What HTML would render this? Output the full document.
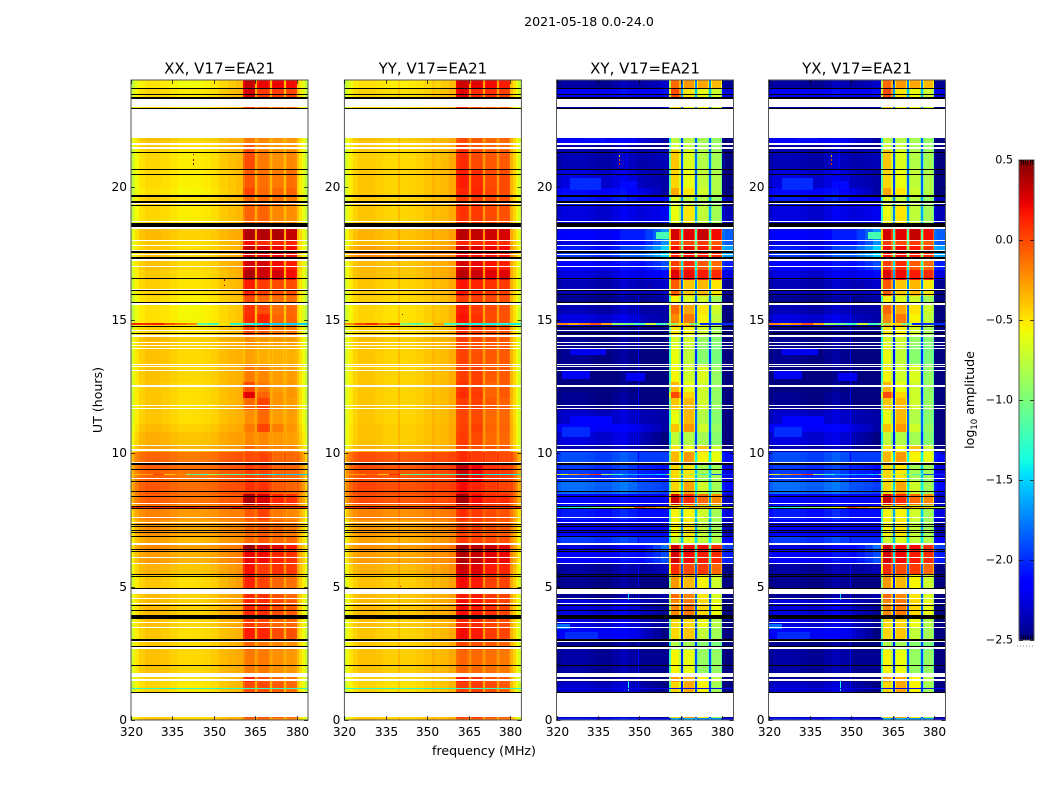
<!DOCTYPE html>
<html>
<head>
<meta charset="utf-8">
<title>2021-05-18 0.0-24.0</title>
<style>
html,body{margin:0;padding:0;background:#fff;}
svg{display:block;}
text{font-family:"DejaVu Sans","Liberation Sans",sans-serif;fill:#000;}
</style>
</head>
<body>
<svg id="chart" xmlns="http://www.w3.org/2000/svg" width="1050" height="800" viewBox="0 0 1050 800">
<text x="589" y="26" font-size="12.6" text-anchor="middle">2021-05-18 0.0-24.0</text>
<text x="484" y="755" font-size="12.6" text-anchor="middle">frequency (MHz)</text>
<text x="102" y="400" font-size="12.6" text-anchor="middle" transform="rotate(-90 102 400)">UT (hours)</text>
<text x="974" y="400" font-size="12.6" text-anchor="middle" transform="rotate(-90 974 400)">log<tspan font-size="8.5" dy="3">10</tspan><tspan dy="-3"> amplitude</tspan></text>
<g id="panels"></g>
<g id="colorbar"></g>
</svg>
<script>
const panelTitles = ["XX, V17=EA21", "YY, V17=EA21", "XY, V17=EA21", "YX, V17=EA21"];
const freqTicks = [320, 335, 350, 365, 380];
const hourTicks = [0, 5, 10, 15, 20];
const cbarTicks = [0.5, 0.0, -0.5, -1.0, -1.5, -2.0, -2.5];
const cbarMinorFractions = [0.1, 0.25, 0.4, 0.55, 0.7, 0.85];

const rowEdges = [24,23.7,23.36,22.88,21.83,21.6,21.38,20.63,19.95,19.65,19.31,18.6,18.0,17.78,17.55,17.33,16.88,16.5,15.9,15.6,15.23,14.74,14.44,14.06,13.35,12.68,12.3,12.08,11.63,11.1,10.8,10.28,10.05,9.68,8.96,8.48,8.06,7.5,6.9,6.64,6.38,5.89,5.44,4.88,4.5,3.86,3.45,3.0,2.63,1.76,1.43,1.01,0.08,0];
const zoneEdges = [320,320.7,321.5,323,325,328,331,334,337,339.4,340,343,346,349,351.7,352.3,355,358,360.6,361.4,364.5,365,365.8,366.2,369.8,370.2,371,371.4,374.9,375.3,376,376.4,379.6,380,381,382,383,384];
const zoneColumn = [0,0,0,0,0,0,0,0,0,0,0,0,0,0,1,1,1,1,2,2,2,1,3,3,3,1,4,4,4,1,5,5,5,1,1,1,1];
const zoneBlend = [0,0,0,0,0,0,0,0,0,0,0,.1,.2,.3,.4,.5,.7,1,0,0,0,1,0,0,0,1,0,0,0,1,0,0,0,1,1,1,1];

const xxProfile = [-.3,-.2,-.1,-.02,.02,.02,0,-.03,-.06,-.06,-.06,-.06,-.05,-.03,0,.02,.04,.05,-.1,0,-.05,.08,-.05,0,-.05,.06,-.05,0,-.05,.05,-.05,0,-.03,0,-.1,-.2,-.35];
const yyProfile = [-.35,-.2,-.1,-.02,.02,.02,0,-.02,-.03,.05,-.03,-.03,-.02,0,.05,0,0,.02,-.05,0,-.05,.1,-.05,0,-.05,.08,-.05,0,-.05,.08,-.05,0,-.05,0,-.12,-.22,-.35];
const xyProfile = [-.3,-.2,-.15,-.15,-.15,-.15,-.17,-.2,-.2,-.2,-.15,-.1,-.15,-.2,-.2,-.2,-.2,-.2,-.7,0,-.25,.25,-.25,0,-.25,.35,-.25,0,-.25,.35,-.25,0,-.25,-.3,-.35,-.35,-.35];
const yxProfile = [-.3,-.2,-.15,-.15,-.15,-.15,-.17,-.2,-.2,-.2,-.15,-.1,-.15,-.2,-.2,-.2,-.2,-.2,-.7,0,-.25,.25,-.25,0,-.25,.35,-.25,0,-.25,.35,-.25,0,-.25,-.3,-.35,-.35,-.35];

/* each row: low band, near band, four sub-band blocks (log10 amplitude) */
const xxRows = [
[-.52,-.42,.32,.22,.22,.2],[-.46,-.4,.28,.05,.05,.02],[-.45,-.4,.05,-.05,-.1,-.1],[-.45,-.4,.05,-.05,-.1,-.1],
[-.4,-.38,-.15,-.2,-.25,-.25],[-.42,-.38,-.05,-.2,-.25,-.25],[-.47,-.4,0,-.15,-.22,-.2],[-.48,-.42,-.05,-.12,-.15,-.12],
[-.5,-.42,.02,-.1,-.1,-.08],[-.45,-.4,-.1,-.1,-.12,-.15],[-.47,-.4,-.08,-.08,-.2,-.22],[-.38,-.36,.38,.37,.38,.32],
[-.42,-.38,.18,.1,.12,.12],[-.42,-.38,.32,.28,.22,.2],[-.4,-.35,.3,.25,.25,.2],[-.4,-.36,.28,.28,.2,.15],
[-.43,-.38,.38,.3,.28,.2],[-.44,-.4,.15,.05,0,0],[-.48,-.43,0,-.1,-.12,-.12],[-.5,-.45,.08,0,-.12,-.1],
[-.5,-.45,.1,.12,-.08,-.08],[-.44,-.4,0,-.05,-.15,-.15],[-.38,-.36,-.22,-.26,-.27,-.27],[-.4,-.38,-.28,-.32,-.33,-.33],
[-.4,-.38,-.16,-.2,-.27,-.27],[-.42,-.38,0,-.15,-.27,-.25],[-.42,-.38,.25,-.08,-.24,-.24],[-.42,-.38,-.1,.02,-.24,-.27],
[-.42,-.38,-.22,-.1,-.27,-.27],[-.38,-.35,-.15,.02,-.17,-.24],[-.34,-.32,-.2,-.2,-.25,-.27],[-.3,-.3,-.1,-.15,-.2,-.2],
[-.1,-.08,0,.02,-.1,-.1],[-.08,-.08,.05,.03,-.08,-.08],[-.06,-.06,.08,.08,-.05,-.08],[-.08,-.1,.38,.28,.12,.08],
[-.2,-.22,-.05,.03,-.15,-.2],[-.25,-.25,-.1,-.05,-.1,-.15],[-.3,-.28,-.1,-.05,-.1,-.1],[-.22,-.2,.42,.32,.25,.15],
[-.28,-.22,.22,.2,.12,.08],[-.35,-.28,.18,.05,.08,.05],[-.42,-.32,.12,.02,-.08,-.12],[-.38,-.33,.1,.08,-.02,-.1],
[-.38,-.34,.12,.1,0,-.05],[-.4,-.35,.05,.02,-.1,-.1],[-.42,-.38,.15,.12,0,-.02],[-.42,-.38,-.08,-.15,-.2,-.22],
[-.4,-.36,-.15,-.15,-.22,-.25],[-.44,-.38,.12,0,-.1,-.12],[-.46,-.4,0,0,-.05,-.1],[-.46,-.4,0,0,-.05,-.1],
[-.38,-.35,-.1,-.1,-.2,-.2]];
const yyRows = [
[-.5,-.38,.3,.25,.2,.15],[-.45,-.36,.25,.1,.08,.03],[-.45,-.36,.1,0,-.05,-.05],[-.45,-.36,.1,0,-.05,-.05],
[-.4,-.33,0,-.05,-.1,-.1],[-.42,-.34,.05,-.05,-.1,-.1],[-.44,-.33,.1,0,-.05,-.05],[-.42,-.33,.15,.1,0,0],
[-.42,-.33,.12,.12,.02,0],[-.42,-.33,.05,.05,0,-.02],[-.42,-.33,.08,.05,0,-.02],[-.36,-.3,.35,.33,.3,.28],
[-.38,-.3,.12,.1,.12,.1],[-.3,-.25,.3,.25,.22,.2],[-.2,-.2,.25,.2,.2,.18],[-.38,-.3,.28,.22,.18,.15],
[-.38,-.3,.35,.3,.25,.25],[-.42,-.33,.18,.12,.08,.05],[-.44,-.35,.05,.03,0,-.02],[-.46,-.36,.15,.05,0,-.02],
[-.46,-.36,.18,.08,0,-.02],[-.44,-.35,.1,.03,-.02,-.03],[-.4,-.33,.05,0,-.03,-.05],[-.42,-.34,.03,-.02,-.05,-.05],
[-.42,-.34,.05,.03,-.05,-.05],[-.42,-.34,.08,.03,-.08,-.05],[-.42,-.34,.1,.05,-.08,-.05],[-.42,-.34,.05,.03,-.05,-.08],
[-.42,-.34,.02,0,-.1,-.1],[-.4,-.33,.03,.03,-.08,-.08],[-.4,-.33,.05,0,-.1,-.1],[-.36,-.3,.05,-.02,-.05,-.05],
[-.03,0,.1,.05,.02,0],[-.02,.02,.32,.22,.08,.05],[0,.02,.2,.12,.05,.02],[-.02,0,.4,.2,.1,.1],
[-.2,-.15,.1,.05,0,-.02],[-.27,-.2,.02,.02,-.02,-.05],[-.3,-.22,.05,.02,0,-.02],[-.24,-.15,.42,.35,.32,.25],
[-.28,-.2,.38,.32,.25,.22],[-.34,-.24,.3,.25,.15,.12],[-.4,-.3,.2,.15,.03,.02],[-.38,-.3,.15,.15,.05,.02],
[-.38,-.3,.2,.15,.08,.02],[-.4,-.32,.12,.1,.02,0],[-.42,-.33,.2,.15,.05,.02],[-.42,-.34,.02,-.02,-.05,-.08],
[-.4,-.33,-.08,-.1,-.12,-.15],[-.44,-.35,.15,.08,-.02,-.05],[-.46,-.36,.05,.05,0,-.05],[-.46,-.36,.05,.05,0,-.05],
[-.38,-.33,-.05,-.05,-.12,-.15]];
const xyRows = [
[-2.25,-2.1,-.1,-.25,-.3,-.35],[-2.0,-1.9,0,-.5,-.6,-.7],[-2.2,-2.1,-.4,-.6,-.6,-.7],[-2.2,-2.1,-.4,-.6,-.6,-.7],
[-2.0,-2.2,-.75,-.8,-.85,-.9],[-2.25,-2.3,-.7,-.75,-.85,-.9],[-2.2,-2.15,-.4,-.65,-.8,-.85],[-2.1,-2.2,-.45,-.6,-.75,-.8],
[-1.95,-2.2,-.3,-.5,-.7,-.8],[-1.9,-2.0,-.65,-.75,-.8,-.9],[-2.1,-2.0,-.6,-.5,-.75,-.85],[-2.0,-1.5,.28,.25,.32,.2],
[-2.1,-1.5,.05,0,.05,-.05],[-1.9,-1.3,.2,.2,.15,.1],[-1.8,-1.3,.15,.2,.15,.1],[-2.0,-1.7,.05,.1,-.05,-.1],
[-2.1,-1.9,.25,.2,.15,.1],[-2.2,-2.1,-.05,-.4,-.35,-.5],[-2.3,-2.2,-.55,-.65,-.7,-.85],[-2.2,-2.2,-.1,-.3,-.5,-.7],
[-2.1,-2.2,-.2,-.15,-.55,-.75],[-2.35,-2.3,-.5,-.55,-.7,-.85],[-2.3,-2.3,-.65,-.7,-.9,-.95],[-2.3,-2.35,-.6,-.75,-.95,-1.0],
[-2.35,-2.35,-.55,-.7,-.65,-.9],[-2.35,-2.35,-.35,-.6,-.7,-.9],[-2.3,-2.35,0,-.45,-.7,-.9],[-2.3,-2.3,-.4,-.35,-.7,-.9],
[-2.15,-2.2,-.6,-.35,-.8,-.95],[-2.0,-2.2,-.4,-.25,-.7,-.9],[-2.1,-2.3,-.75,-.8,-.85,-.95],[-2.2,-2.35,-.5,-.6,-.4,-.7],
[-1.75,-1.75,-.35,-.25,-.55,-.6],[-1.8,-1.9,-.45,-.5,-.85,-.85],[-1.65,-1.75,-.45,-.3,-.7,-.85],[-2.0,-2.0,.3,.1,-.1,-.2],
[-1.9,-1.9,-.55,-.55,-.7,-.85],[-2.0,-2.0,-.55,-.5,-.75,-.85],[-1.8,-1.8,-.7,-.65,-.75,-.8],[-2.1,-1.6,.3,.2,.2,.1],
[-2.0,-1.7,.28,.2,.15,.1],[-2.25,-2.15,.1,0,.05,-.1],[-2.3,-2.3,-.25,-.35,-.55,-.7],[-2.3,-2.2,-.1,-.2,-.5,-.65],
[-2.1,-2.25,-.2,-.15,-.45,-.6],[-2.1,-2.25,-.45,-.45,-.6,-.8],[-2.0,-2.3,-.45,-.4,-.75,-.85],[-2.3,-2.3,-.8,-.85,-.95,-1.0],
[-2.25,-2.25,-.55,-.6,-.9,-.9],[-2.3,-2.3,-.25,-.3,-.55,-.75],[-2.15,-2.3,-.45,-.3,-.55,-.85],[-2.15,-2.3,-.45,-.3,-.55,-.85],
[-1.9,-1.9,-1.6,-1.6,-1.7,-1.7]];
const yxRows = xyRows;

/* flagged data, in hours */
const whiteGaps = [[23.29,22.97],[22.9,21.84],[21.62,21.57],[21.49,21.41],[19.39,19.35],[18.71,18.66],[18.47,18.42],[18.01,17.97],[17.83,17.79],[17.64,17.6],[17.49,17.45],[17.27,17.22],[17.04,16.99],[16.16,16.12],[15.62,15.56],[14.63,14.58],[14.44,14.36],[14.19,14.14],[14.07,14.03],[13.96,13.91],[13.36,13.31],[13.26,13.22],[13.11,13.07],[12.58,12.55],[12.53,12.49],[11.81,11.76],[11.71,11.66],[10.31,10.26],[10.16,10.09],[9.68,9.64],[9.08,9.04],[8.14,8.09],[7.61,7.58],[7.43,7.38],[6.64,6.58],[6.11,6.08],[5.89,5.85],[4.9,4.71],[4.58,4.54],[4.39,4.35],[3.68,3.64],[3.49,3.45],[2.96,2.91],[2.74,2.65],[1.76,1.62],[1.52,1.46],[1.01,0.1]];
const blackHours = [23.69,23.46,23.34,22.92,21.29,20.65,20.46,19.66,19.43,19.28,18.59,18.5,17.55,17.34,16.54,16.1,15.96,15.66,14.74,14.5,9.6,9.4,8.96,8.58,8.39,8.01,7.92,7.34,7.25,7.1,7.02,6.89,6.38,6.32,5.45,5.39,4.92,4.3,4.11,3.89,3.79,3.01,2.76,2.05,1.04];
const blackThick = [.04,.04,.08,.04,.04,.04,.04,.08,.1,.04,.1,.04,.04,.08,.04,.04,.04,.04,.04,.04,.04,.04,.04,.04,.04,.04,.04,.04,.04,.04,.04,.04,.04,.04,.04,.04,.04,.04,.04,.1,.04,.08,.04,.04,.04];

/* noisy interference rows: 4 MHz bins across the band */
const noiseHours = [14.85, 9.2, 7.95, 1.17];
const xxNoise = [
[.1,.1,.15,0,-.1,-.2,-1.1,-1.2,-.5,-1.3,-1.3,-1.4,-1.5,-1.5,-1.5,-1.5],
[-.4,-.3,0,-.4,-.2,-1.1,-1.2,-.9,-1.1,-1.2,-1.2,-1.3,-1.4,-1.5,-1.5,-1.5],
[.1,.05,.15,.1,.1,.15,.05,.1,.1,.2,.1,.1,.1,.1,.1,.05],
[-1.3,-1.3,-1.3,-1.35,-1.3,-1.3,-1.3,-1.3,-1.3,-1.3,-1.3,-1.25,-1.3,-1.3,-1.3,-1.3]];
const yyNoise = [
[-.2,0,.1,-.1,.1,-1.0,-1.1,-.9,-.3,-1.2,-1.3,-1.4,-1.4,-1.4,-1.4,-1.4],
[-.3,-.3,-.1,-.4,.1,-1.0,-1.2,-1.2,-1.2,-1.2,-1.3,-1.3,-1.4,-1.4,-1.4,-1.4],
[.1,.1,.15,.1,.1,.15,.1,.1,.1,.2,.1,.1,.1,.1,.1,.05],
[-1.3,-1.3,-1.3,-1.3,-1.3,-1.3,-1.3,-1.3,-1.3,-1.3,-1.3,-1.3,-1.3,-1.3,-1.3,-1.3]];
const xyNoise = [
[-.2,-.3,-.2,0,-.3,-.9,-1.0,-1.2,-.7,-1.2,-.9,-.5,-1.0,-2,-2,-2],
[-.6,-.3,-.1,.1,-.9,-1.3,-1.6,-1.6,-1.6,-1.5,-.5,-.7,-.9,-1.2,-1.9,-2],
[-1.4,-1.3,-1.2,-1.0,-.9,-.7,-.5,0,-.2,-.4,-.3,-.5,-.3,-.4,-.5,-.8],
[-2.2,-2.2,-2.2,-2.2,-2.2,-2.2,-2.2,-2.2,-2.2,-2.2,-2.2,-2.2,-2.2,-2.2,-2.2,-2.2]];
const yxNoise = xyNoise;

/* broad low-level patches in cross-hands: hour from, hour to, freq from, freq to, value */
const crossPatches = [
[20.33,19.88,325,336,-2.0],[20.2,19.9,343,349,-2.1],[13.95,13.7,325,338,-2.2],[13.1,12.8,322,332,-2.2],
[11.4,11.0,325,340,-2.15],[11.0,10.6,322,332,-2.0],[13.0,12.7,345,352,-2.2],[3.3,3.0,323,335,-2.0],[3.6,3.4,320,325,-1.8],
[18.3,18.05,356,360.6,-1.2],[21.83,21.65,330,338,-2.1]];
const crossVertical = [[21.4,18.7,345.6,346,-2.15],[16.0,8.9,349.5,350,-2.15],[7.0,0.8,349.6,350,-2.1],[1.5,1.1,346,346.4,-1.4],[4.9,4.5,345.8,346.2,-1.5]];
const xxSpeckles = [[21.2,342.5,.4],[21.0,342.5,.4],[20.85,342.5,.4],[16.5,353.6,.4],[16.3,353.6,.4]];
const yySpeckles = [[15.2,341,.45],[5.0,340,.2],[17.6,353,.3]];
const xySpeckles = [[21.15,342.5,-.3],[21.0,342.5,-.1],[20.85,342.5,.1],[16.55,353.6,-.9],[16.3,353.6,.4]];
const yxSpeckles = [[21.15,342.5,-.3],[21.0,342.5,-.1],[20.85,342.5,.1],[16.55,353.6,-.9],[16.3,353.6,.4]];

const cbarMin = -2.5, cbarMax = 0.5;
const panelLefts = [131, 344.4, 556.5, 768.5];
const panelWidth = 177, plotTop = 80, plotBottom = 720;
const pxPerMHz = 2.76;
const SVGNS = 'http://www.w3.org/2000/svg';

function xScale(left, f){ return left + (f - 320) * pxPerMHz; }
function yScale(h){ return plotBottom - h * (plotBottom - plotTop) / 24; }
function ramp(t, pts){
  for (let i = 1; i < pts.length; i++) {
    if (t <= pts[i][0]) {
      const a = pts[i-1], b = pts[i];
      return a[1] + (b[1]-a[1]) * (t-a[0]) / (b[0]-a[0]);
    }
  }
  return pts[pts.length-1][1];
}
function jet(v){
  const t = Math.max(0, Math.min(1, (v - cbarMin) / (cbarMax - cbarMin)));
  const r = ramp(t, [[0,0],[.35,0],[.66,1],[.89,1],[1,.5]]);
  const g = ramp(t, [[0,0],[.125,0],[.375,1],[.64,1],[.91,0],[1,0]]);
  const b = ramp(t, [[0,.5],[.11,1],[.34,1],[.65,0],[1,0]]);
  return 'rgb(' + Math.round(r*255) + ',' + Math.round(g*255) + ',' + Math.round(b*255) + ')';
}
function make(tag, parent, attrs){
  const el = document.createElementNS(SVGNS, tag);
  for (const k in attrs) el.setAttribute(k, attrs[k]);
  parent.appendChild(el);
  return el;
}
function drawCell(g, left, f0, f1, h0, h1, value, colorOverride){
  const xa = Math.round(xScale(left, f0)), xb = Math.round(Math.min(xScale(left, f1), left + panelWidth));
  const ya = Math.round(yScale(h0)), yb = Math.round(yScale(h1));
  const r = make('rect', g, {x: xa, y: ya, width: Math.max(1, xb - xa), height: Math.max(1, yb - ya), fill: colorOverride || jet(value), 'shape-rendering': 'crispEdges'});
  
  
  return r;
}
function drawPanel(parent, idx, rows, profile, noise, speckles, cross){
  const left = panelLefts[idx];
  const g = make('g', parent, {});
  
  
  rows.forEach(function(row, r){
    profile.forEach(function(off, z){
      const col = zoneColumn[z];
      const base = col < 2 ? row[0] * (1 - zoneBlend[z]) + row[1] * zoneBlend[z] : row[col];
      drawCell(g, left, zoneEdges[z], zoneEdges[z+1], rowEdges[r], rowEdges[r+1], base + off);
    });
  });
  if (cross) {
    crossPatches.concat(crossVertical).forEach(function(p){
      drawCell(g, left, p[2], p[3], p[0], p[1], p[4]);
    });
  }
  noiseHours.forEach(function(h, n){
    noise[n].forEach(function(v, b){
      drawCell(g, left, 320 + b*4, 320 + (b+1)*4, h + .025, h - .025, v);
    });
  });
  speckles.forEach(function(s){
    drawCell(g, left, s[1], s[1] + .4, s[0] + .03, s[0] - .03, s[2]);
  });
  whiteGaps.forEach(function(w){
    drawCell(g, left, 320, 384, w[0], w[1], 0, '#ffffff');
  });
  blackHours.forEach(function(h, i){
    const half = blackThick[i] / 2;
    drawCell(g, left, 320, 384, h + half, h - half, 0, '#000000');
  });
  /* axes frame */
  const frame = make('rect', g, {x: left, y: plotTop, width: panelWidth, height: plotBottom - plotTop, fill: 'none', stroke: '#555', 'stroke-width': 1});
  
  
  const title = make('text', g, {x: left + panelWidth/2, y: 73.5, 'font-size': 15, 'text-anchor': 'middle'});
  title.textContent = panelTitles[idx];
  
  
  freqTicks.forEach(function(f){
    const x = Math.round(xScale(left, f)) + .5;
    const t1 = make('line', g, {x1: x, x2: x, y1: plotBottom, y2: plotBottom - 4, stroke: '#000', 'stroke-width': .7});
    
    
    const t2 = make('line', g, {x1: x, x2: x, y1: plotTop, y2: plotTop + 4, stroke: '#000', 'stroke-width': .7});
    
    
    const lab = make('text', g, {x: x, y: 736, 'font-size': 12.2, 'text-anchor': 'middle'});
    lab.textContent = String(f);
    
    
  });
  hourTicks.forEach(function(h){
    const y = Math.round(yScale(h)) + .5;
    const t1 = make('line', g, {x1: left, x2: left + 4, y1: y, y2: y, stroke: '#000', 'stroke-width': .7});
    
    
    const t2 = make('line', g, {x1: left + panelWidth, x2: left + panelWidth - 4, y1: y, y2: y, stroke: '#000', 'stroke-width': .7});
    
    
    const lab = make('text', g, {x: left - 4, y: y + 3.5, 'font-size': 12.2, 'text-anchor': 'end'});
    lab.textContent = String(h);
    
    
  });
}
function drawColorbar(){
  const g = document.getElementById('colorbar');
  const x0 = 1019, w = 15, top = 160, bottom = 640;
  const cy = function(v){ return top + (cbarMax - v) * (bottom - top) / (cbarMax - cbarMin); };
  for (let py = top; py < bottom; py += 2) {
    const v = cbarMax - (py - top + 1) * (cbarMax - cbarMin) / (bottom - top);
    const s = make('rect', g, {x: x0, y: py, width: w, height: 2, fill: jet(v), 'shape-rendering': 'crispEdges'});
    
    
  }
  const f = make('rect', g, {x: x0, y: top, width: w, height: bottom - top, fill: 'none', stroke: '#555', 'stroke-width': 1});
  
  
  cbarTicks.forEach(function(v){
    const y = Math.round(cy(v)) + .5;
    const a = make('line', g, {x1: x0, x2: x0 + 4, y1: y, y2: y, stroke: '#000', 'stroke-width': .7});
    
    
    const b = make('line', g, {x1: x0 + w, x2: x0 + w - 4, y1: y, y2: y, stroke: '#000', 'stroke-width': .7});
    
    
    const t = make('text', g, {x: 1013, y: y + 3.2, 'font-size': 11.2, 'text-anchor': 'end'});
    t.textContent = (v < 0 ? '\u2212' : '') + Math.abs(v).toFixed(1);
    
    
  });
  cbarMinorFractions.forEach(function(fr){
    const x = Math.round(x0 + fr * w) + .5;
    const a = make('line', g, {x1: x, x2: x, y1: top, y2: top + 5, stroke: '#000', 'stroke-width': .7});
    
    
    const b = make('line', g, {x1: x, x2: x, y1: bottom, y2: bottom - 5, stroke: '#000', 'stroke-width': .7});
    
    
  });
  const dots = make('line', g, {x1: 1017, x2: 1035, y1: 646, y2: 646, stroke: '#888', 'stroke-width': 1, 'stroke-dasharray': '1 2'});
  
  
}
const panelsGroup = document.getElementById('panels');
drawPanel(panelsGroup, 0, xxRows, xxProfile, xxNoise, xxSpeckles, false);
drawPanel(panelsGroup, 1, yyRows, yyProfile, yyNoise, yySpeckles, false);
drawPanel(panelsGroup, 2, xyRows, xyProfile, xyNoise, xySpeckles, true);
drawPanel(panelsGroup, 3, yxRows, yxProfile, yxNoise, yxSpeckles, true);
drawColorbar();
</script>
</body>
</html>
